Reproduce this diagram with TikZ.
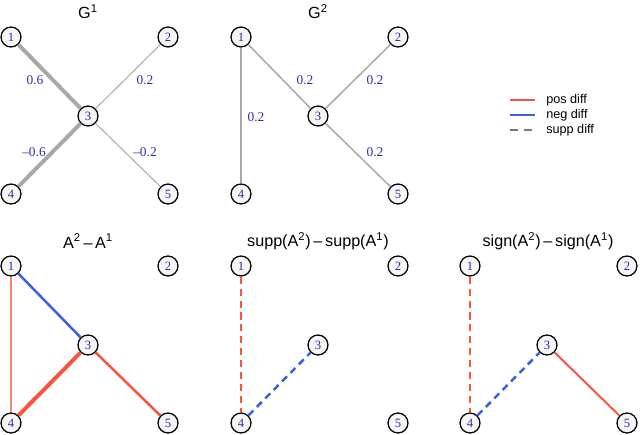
\documentclass[tikz,border=0pt]{standalone}
\usepackage{fontspec}
\setmainfont{Liberation Serif}
\newfontfamily\helv{Liberation Sans}
\usepackage{tikz}
\usetikzlibrary{positioning, calc}

\definecolor{posred}{HTML}{F8553F}
\definecolor{lightred}{HTML}{F88470}
\definecolor{negblue}{HTML}{3D63D8}
\definecolor{nodeblue}{HTML}{2E2EA6}
\definecolor{edgegray}{HTML}{A8A8A8}
\definecolor{suppgray}{HTML}{777777}

\begin{document}
\begin{tikzpicture}[
    x=0.025cm, y=-0.025cm,
    vert/.style={circle, draw=black, line width=0.9pt, fill=gray!7, inner sep=0pt,
                 minimum size=14.2pt, text=nodeblue, font=\fontsize{9}{10}\selectfont},
    title/.style={font=\helv\fontsize{11.5}{12}\selectfont, inner sep=0pt},
    wlabel/.style={text=nodeblue, font=\fontsize{9.5}{10}\selectfont, inner sep=1pt},
    legtext/.style={font=\helv\fontsize{9}{10}\selectfont, anchor=west, inner sep=0pt},
    gthin/.style={draw=edgegray, line width=0.7pt},
    gmid/.style={draw=edgegray, line width=1.05pt},
    gthick/.style={draw=edgegray, line width=2.8pt},
    suppdash/.style={line width=1.8pt, dash pattern=on 5pt off 3.5pt}
]
\useasboundingbox (0,0) rectangle (640,435);

% ==========================================
% 1. Five-vertex graph block
% ==========================================
\tikzset{
    fivegraph/.pic={
        \node[vert] (-n1) at (0,0)     {1};
        \node[vert] (-n2) at (157,0)   {2};
        \node[vert] (-n3) at (77,79)   {3};
        \node[vert] (-n4) at (0,157)   {4};
        \node[vert] (-n5) at (157,157) {5};
    }
}

% ==========================================
% 2. Place the five panels
% ==========================================
\pic (G1) at (11,37)   {fivegraph};  % top left
\pic (G2) at (241,37)  {fivegraph};  % top middle
\pic (D)  at (11,266)  {fivegraph};  % bottom left
\pic (S)  at (241,266) {fivegraph};  % bottom middle
\pic (Sg) at (470,266) {fivegraph};  % bottom right

% Titles
\node[title] (tG1) at (88,12)   {G\textsuperscript{1}};
\node[title] (tG2) at (318,12)  {G\textsuperscript{2}};
\node[title] (tD)  at (88,241)  {A\textsuperscript{2}\,–\,A\textsuperscript{1}};
\node[title] (tS)  at (318,241) {supp(A\textsuperscript{2})\,–\,supp(A\textsuperscript{1})};
\node[title] (tSg) at (548,241) {sign(A\textsuperscript{2})\,–\,sign(A\textsuperscript{1})};

% ==========================================
% 3. Edges of G1 and G2
% ==========================================
\draw[gthick] (G1-n1) -- (G1-n3);
\draw[gthick] (G1-n4) -- (G1-n3);
\draw[gthin]  (G1-n2) -- (G1-n3);
\draw[gthin]  (G1-n5) -- (G1-n3);

\node[wlabel] (wG13) at (35,80)   {0.6};
\node[wlabel] (wG23) at (145,80)  {0.2};
\node[wlabel] (wG34) at (34,152)  {–0.6};
\node[wlabel] (wG35) at (145,152) {–0.2};

\draw[gmid] (G2-n1) -- (G2-n3);
\draw[gmid] (G2-n2) -- (G2-n3);
\draw[gmid] (G2-n3) -- (G2-n5);
\draw[gmid] (G2-n1) -- (G2-n4);

\node[wlabel] (wH13) at (305,80)  {0.2};
\node[wlabel] (wH23) at (375,80)  {0.2};
\node[wlabel] (wH14) at (256,117) {0.2};
\node[wlabel] (wH35) at (375,152) {0.2};

% ==========================================
% 4. Difference panels
% ==========================================
\draw[lightred, line width=1.1pt] (D-n1) -- (D-n4);
\draw[negblue, line width=1.8pt]  (D-n1) -- (D-n3);
\draw[posred, line width=2.8pt]   (D-n3) -- (D-n4);
\draw[posred, line width=1.8pt]   (D-n3) -- (D-n5);

\draw[posred, suppdash]  (S-n1) -- (S-n4);
\draw[negblue, suppdash] (S-n4) -- (S-n3);

\draw[posred, suppdash]  (Sg-n1) -- (Sg-n4);
\draw[negblue, suppdash] (Sg-n4) -- (Sg-n3);
\draw[posred, line width=1.4pt] (Sg-n3) -- (Sg-n5);

% ==========================================
% 5. Legend
% ==========================================
\foreach \k/\y/\txt in {pos/100/pos diff, neg/115/neg diff, supp/130/supp diff} {
    \coordinate (leg\k-a) at (510,\y);
    \coordinate (leg\k-b) at (535,\y);
    \node[legtext] (leg\k-t) at (546,\y) {\txt};
}
\draw[posred, line width=1.6pt]  (legpos-a) -- (legpos-b);
\draw[negblue, line width=1.6pt] (legneg-a) -- (legneg-b);
\draw[suppgray, line width=1.6pt, dash pattern=on 5.5pt off 4.5pt] (legsupp-a) -- (legsupp-b);

\end{tikzpicture}
\end{document}
